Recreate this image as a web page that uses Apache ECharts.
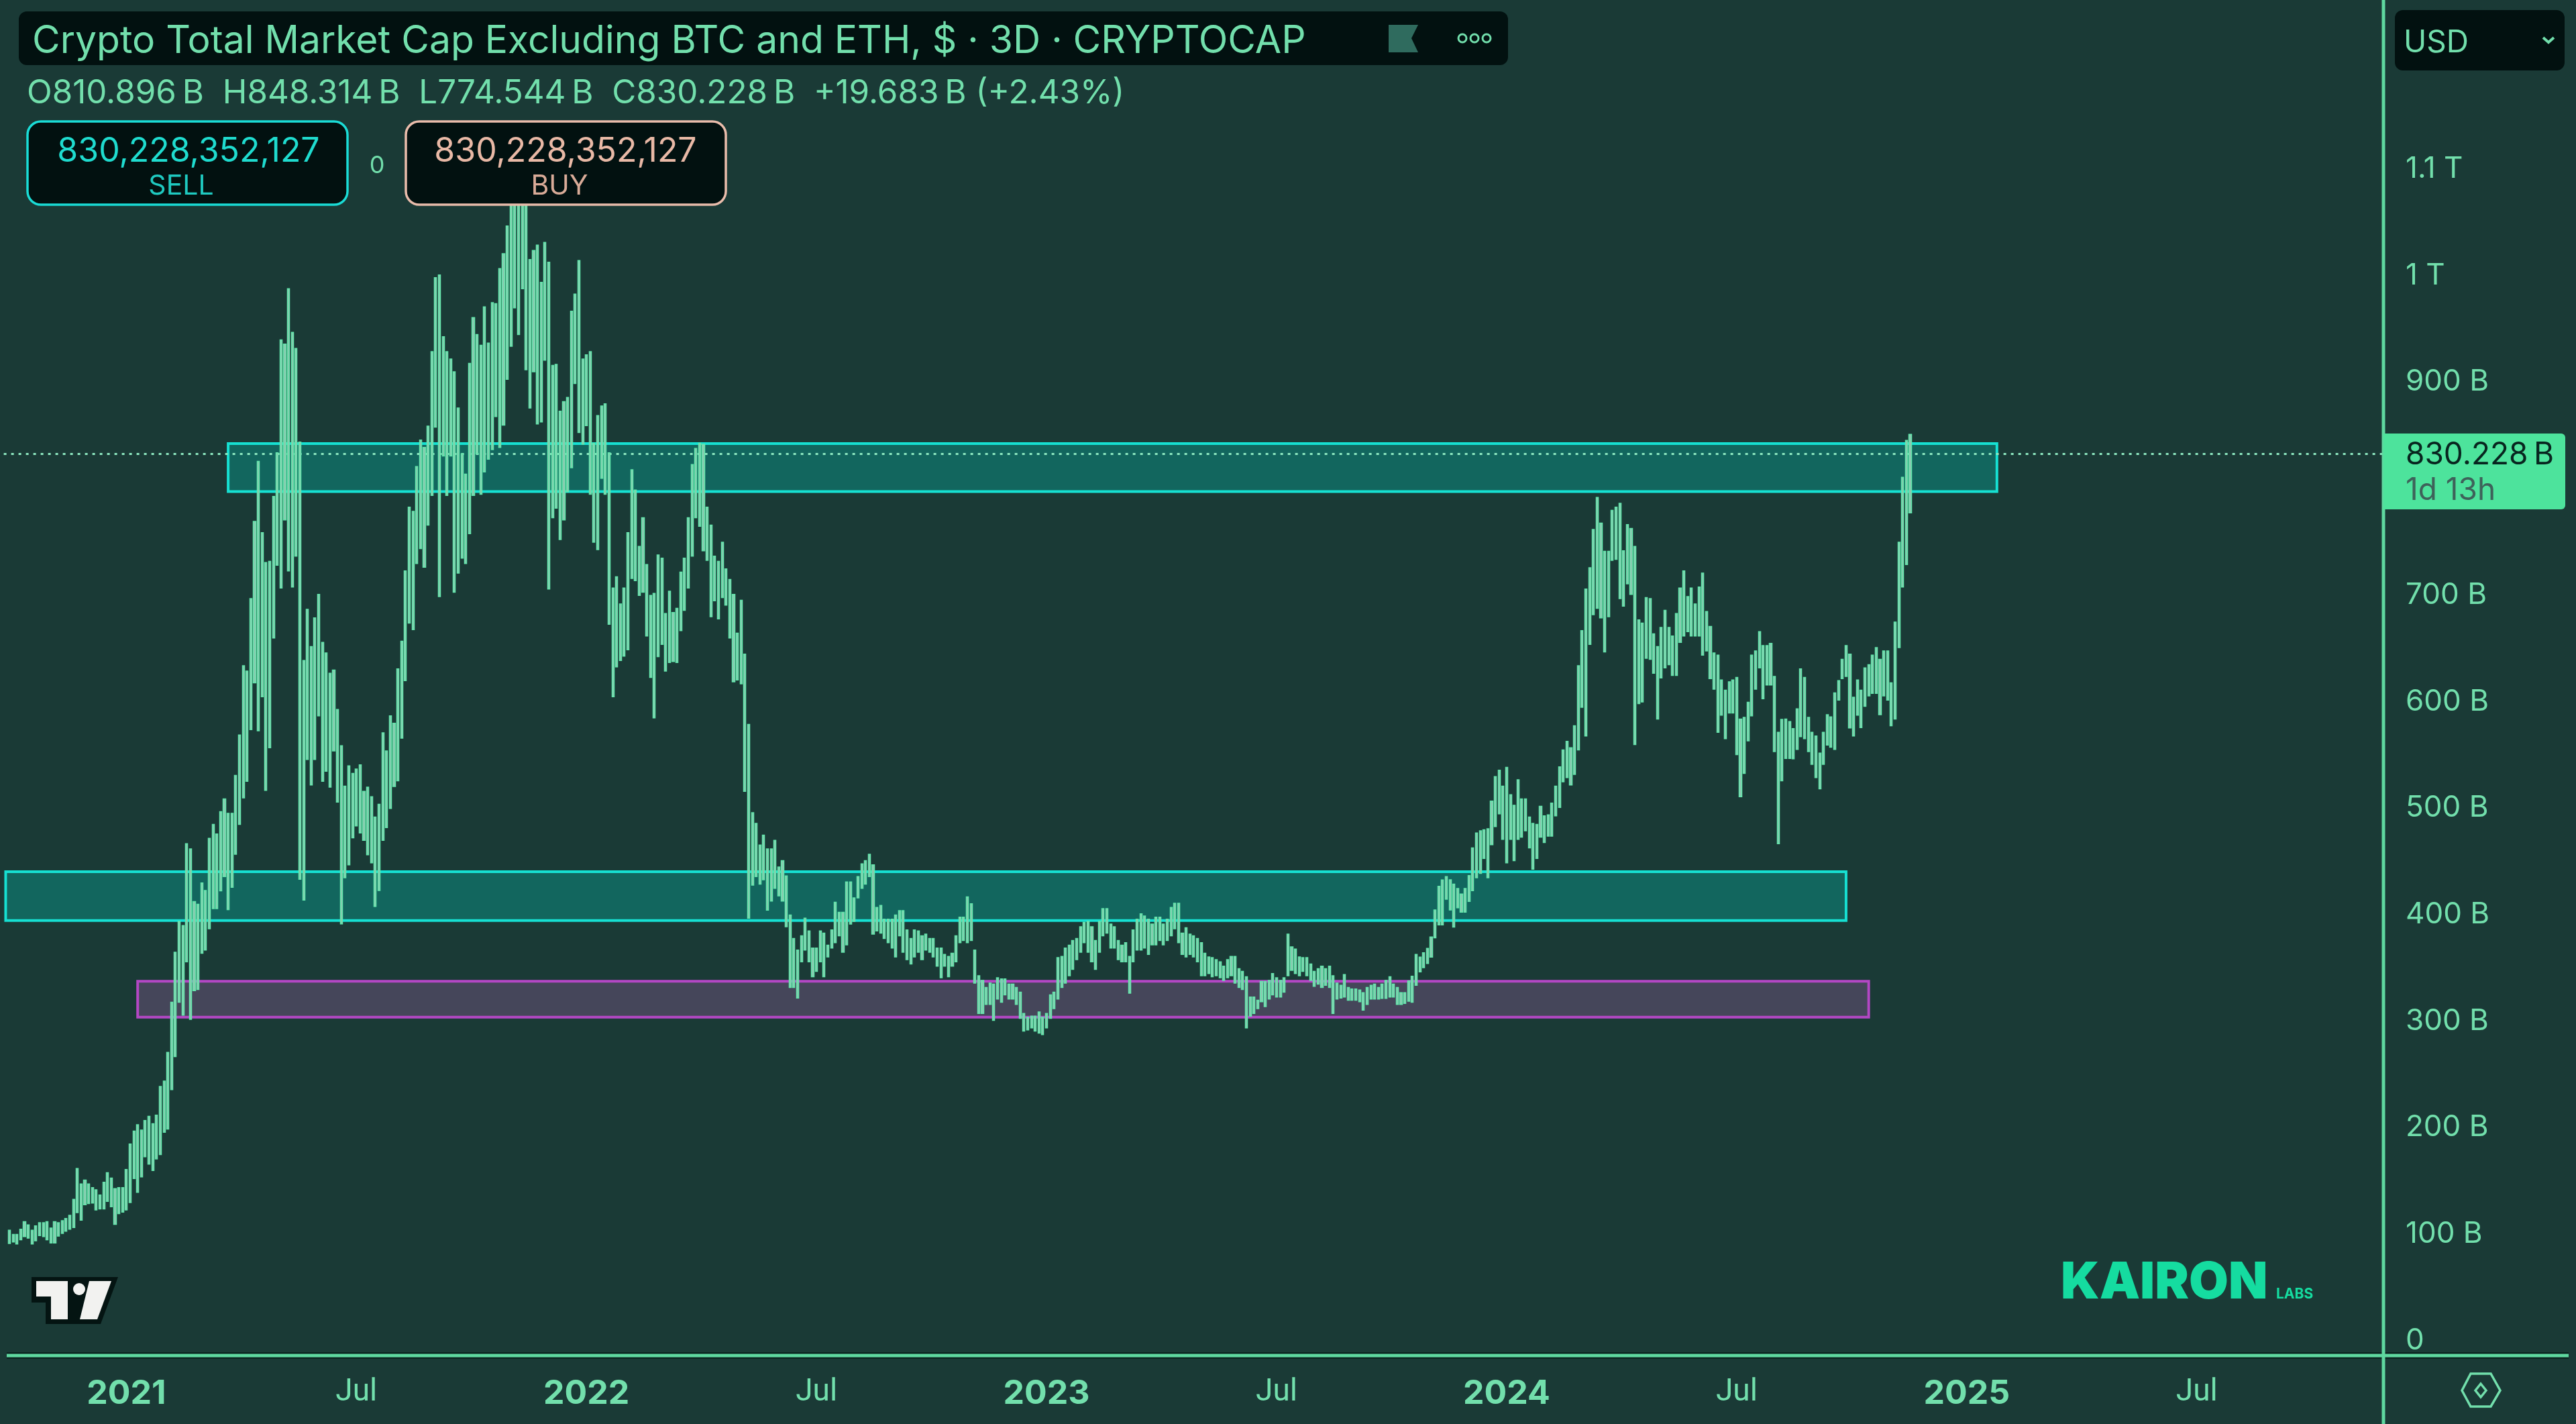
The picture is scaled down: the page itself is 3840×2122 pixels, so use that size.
<!DOCTYPE html>
<html><head><meta charset="utf-8">
<style>html,body{margin:0;padding:0;background:#1a3a36}#c{width:3840px;height:2122px}</style>
<script src="https://cdn.jsdelivr.net/npm/echarts@6/dist/echarts.min.js"></script>
</head><body><div id="c"></div>
<script>
// Bar highs and lows in billions of USD, one pair per 3-day bar
const barHighs = [
101,97,97,102,109,106,101,105,108,108,
109,103,109,108,110,112,115,130,159,144.5,
148,144.5,141,139,134,146,155,150,140,141,
141,158,182,194,200,195,204,208,201,209,
236,241,268,315,362,391,387,464,459,409.5,
407,427,420,469,482,473,494,506,492.5,492.5,
528,566,631,626,694,766.5,823,756,728,729,
790,831,937,933,985,944,929,841,636,684,
649,676,698,653,643,624,627,590,556,518,
537,530,534,538,513,517,508,489,501,568,
551,584,577,628,654,720,780,776,818,843,
836,856,926,995.5,998,940,926,919,907,873,
830,811,915,958,942,932,968,934,972,971,
1004,1018,1044,1090,1095,1100,1100,1085,1012.5,1021,
1026,991,1028.5,1010,913,914,870,879,883,964,
980,1011.5,919,923,926,840,866,875,877,831,
704,714.5,689,704,756,815,796,743,770,726,
697,699,735,732,680,701,681,685,719,732,
770,820,835,840,839,780,763,734,729,747,
722,712,698,661.6,692.5,642,576,493,483,462.6,
472,459,459,467,442,448,433.7,397,375,364,
377.5,394,382,366,366,382,380,368.6,383,409,
399.5,399.5,428,428,413,433,445,448,454,444,
404,406,393,393,393,397,401,401,383,375,
383,382,377.5,379,375,375,366,366,360,358,
361,377.5,395,395,414,407.5,364,340,335.5,329,
333,332,338,337,337,332,332,329,324.5,304.5,
301,302,302,306,301,304.5,322,324.5,357,358,
366,368.6,373,375,386,390,391,386,373,391,
403,403,388.5,386,373,368.6,371,358,383,393,
398,396,393,388.5,395,395,388.5,393,404,408,
408,380,385,379,377.5,375,371,361,357.6,357,
355,353,349,355,358,358,346.5,344,339,320,
320,317,334.6,334.6,335.5,342,338,335.5,338,379,
367,365,357.6,357,357,351,344,346.5,349,346.5,
349,340,333,331,341,329,327.5,327.5,326.6,324,
329,331,332,329,332,335.5,339,332,329,324,
324,335,339.5,360,357.5,361.6,365.6,376.4,401.7,423.9,
429.9,433,430,426,421.8,416.6,421.8,434,460,474,
476,477,478,504,527,533,518,535.6,510,500,
524,506,506,489,483,482,499,490,491,502,
518,536,552,560,554,574.6,631,664,703,723,
759,789,765,738.5,738.5,777,780,783.5,739,763.5,
760,743,674,671,695,694,661,649,667,683,
667,659,680,704,720,696,704,689,705,718,
682,668,643,641,617.6,608,616,617.6,620,581,
582.6,596.7,641,645,663,650,650,652,621,568.5,
580.6,581,578.6,572,590.6,628,620,582.6,568.5,565,
549,568.5,585,583,605.5,617,637,650,642,601.5,
617.6,608,629,632,641,648,637,645,645,615,
672,747,808,842.6,848.3];
const barLows = [
88.5,90,88,92,95,93.5,88,91,96,95,
92,89,89,95.5,98,100,102,103.5,117.5,110.5,
125,126,126.5,120,121,121,128,123,106.5,116.5,
118,120,127,149.5,136.5,151,170,163,157,168,
172,193,196,233,264,315,303,353,299,326,
327,361,364,384,403,403,419.6,433,402,423,
454,482,507,522.6,571,615,570,602,514,554,
657,725.5,704,768,720,705,734,430.6,411,543,
519,543,584,522.6,532,517,551,503,388.6,432,
444,469.5,480.6,474,467,453.6,446,405,420,467,
479,497,517.7,523,563,617,671,665,727,741,
723.6,763,791,855,696,828,791,828,700,718,
732,727,755,791,830,792,813,825,834,865,
836,857,900,931,967,942,985,909,873,907,
858,860,918,703,770,779,749.5,768,794.5,817,
896,850,839,856.5,792,747,740,807,792,670,
602,630,636,640,646,713,711,697,700,659,
620,582,639.5,651,626,634,635,634,664,683,
704,734,770,762,739,730,677,692,675,695,
688,657,616,617.6,614,513,394,425,433,426,
430,401.5,410,422,415,410,386,329,329,319,
353,364,353,339,344,353,339,357.6,366,371,
377.5,362,369,388.5,391,413,422,426,433,379,
382,380,375,371,366,357.6,377.5,362,355,351,
357.6,362,355,364,362,357.6,349,338,349,339,
349,353,371,373,371,373,333,304.5,304.5,313,
313,298,318,315,322,318,318,313,300,288,
289,291,288,286,284.6,291,300,309,318,329,
333,340,346,355,362,371,362,353,346,362,
377.5,380,366,366,355,353,353,323.5,353,364,
364,366,360,369,369,373,369,373,377.5,384,
371,360,357.6,360,357.6,353,340,340,342,339,
340,338,335.5,338,340,333,329,327,291,302,
304.5,309,315.6,311,318,322,320,320,324.5,340,
345,342,340,344,340,335.5,330,332,329,331,
329,304.5,318,319,320,317,317,317,315.6,307.6,
313,318,318,318,318.7,318.7,320,320,313,313,
314,316,315,331,343.5,347.5,351.5,357.5,375.6,387.7,
387.7,411.8,401.7,385.7,403.7,399.7,399.7,409.8,419.8,431.9,
436,450,432,463,480,492,468,446,468,448,
468,470,476,460,440,450,470,465,471,471,
490,498,522,526,519,529,552,592,565,651,
679,685,676,644,677,730,731,694,687,708,
698,557,595.5,597,638,637,624,581,619.6,629,
632,622,622,653,659,663,659,659,659,641,
645,619,609,568.5,584.6,562.5,586.6,586.6,547.6,508,
530,560.5,584,609,629,600,613,613,550.4,464,
523,544,544,543.6,552.5,564.5,562.5,550.4,538.4,526,
515.5,538.4,556.5,554.5,552.5,598.7,619,621,572.6,565,
584.6,573,593,602.7,605,605,585,602.7,598.7,574.6,
581,648,705,726,774.5];

// Time axis: one slot per 3-day bar, with empty slots before the first bar and after the last
const categoryCount = 631;
const leadSlots = 1;
const categories = [];
for (let k = 0; k < categoryCount; k++) {
  categories.push(new Date(Date.UTC(2020, 8, 29 + k * 3)).toISOString().slice(0, 10));
}
const tickIndices = [32, 93, 154, 215, 276, 337, 398, 459, 520, 581];
const tickLabels = ['2021', 'Jul', '2022', 'Jul', '2023', 'Jul', '2024', 'Jul', '2025', 'Jul'];

// Price axis ticks
const priceTicks = [0,100,200,300,400,500,600,700,900,1000,1100];
const priceTickLabels = ['0','100 B','200 B','300 B','400 B','500 B','600 B','700 B','900 B','1 T','1.1 T'];
const lastClose = 830.228;

// Zones: [first slot, last slot, top, bottom] in billions
const upperZone = [59, 528, 839.6, 794.6];
const middleZone = [0, 488, 437.6, 391.8];
const lowerZone = [35, 494, 334.8, 301];

const BG = '#1a3a36', GREEN = '#72dfac', LINE = '#5fd8a0', DARK = '#021110';
const CYAN = '#16e0d2', TEAL = '#12665e', PURPLE = '#b347c4', PLUM = '#45465a';
const UI = 'Inter, sans-serif', NUM = 'Inter, sans-serif';

const barData = [];
for (let k = 0; k < leadSlots; k++) barData.push(['-', '-', '-', '-']);
barHighs.forEach((h, k) => barData.push([barLows[k], h, barLows[k], h]));

function zoneArea(z, fill, stroke) {
  return [
    { xAxis: categories[z[0]], yAxis: z[2], itemStyle: { color: fill, borderColor: stroke, borderWidth: 4 } },
    { xAxis: categories[z[1]], yAxis: z[3] }
  ];
}
function txt(x, y, text, size, fill, opts) {
  return { type: 'text', z: 100, x: x, y: y,
    style: Object.assign({ text: text, fontSize: size, fill: fill, fontFamily: UI, textAlign: 'left', textVerticalAlign: 'middle' }, opts || {}) };
}
function rrect(x, y, w, h, r, fill, stroke, lw) {
  return { type: 'rect', z: 90, shape: { x: x, y: y, width: w, height: h, r: r },
    style: { fill: fill, stroke: stroke || null, lineWidth: lw || 0 } };
}
function poly(points, fill, stroke, lw, z) {
  return { type: 'polygon', z: z || 95, shape: { points: points },
    style: { fill: fill, stroke: stroke || null, lineWidth: lw || 0 } };
}
function seg(x1, y1, x2, y2, color, w, z) {
  return { type: 'line', z: z || 80, shape: { x1: x1, y1: y1, x2: x2, y2: y2 }, style: { stroke: color, lineWidth: w } };
}

const overlay = [
  seg(10, 2020, 3829, 2020, '#0c2622', 10, 78),
  seg(10, 2020, 3829, 2020, LINE, 5, 79),
  { type: 'rect', z: 77, shape: { x: 0, y: 2012, width: 10, height: 16 }, style: { fill: BG } },
  seg(3553, 0, 3553, 2122, LINE, 5),
  // Title bar
  rrect(28, 17, 2220, 80, 12, DARK),
  txt(48, 62, 'Crypto Total Market Cap Excluding BTC and ETH, $ \u00b7 3D \u00b7 CRYPTOCAP', 57, GREEN),
  poly([[2070,37],[2114,37],[2104,57],[2114,78],[2070,78]], '#2f6b5e'),
  { type: 'circle', z: 95, shape: { cx: 2180, cy: 57, r: 6 }, style: { fill: 'none', stroke: GREEN, lineWidth: 3 } },
  { type: 'circle', z: 95, shape: { cx: 2198, cy: 57, r: 6 }, style: { fill: 'none', stroke: GREEN, lineWidth: 3 } },
  { type: 'circle', z: 95, shape: { cx: 2216, cy: 57, r: 6 }, style: { fill: 'none', stroke: GREEN, lineWidth: 3 } },
  // OHLC line
  txt(40, 139, 'O810.896\u2009B  H848.314\u2009B  L774.544\u2009B  C830.228\u2009B  +19.683\u2009B (+2.43%)', 49.3, GREEN),
  // Sell / buy boxes
  rrect(41, 181, 477, 124, 20, DARK, '#1adcd6', 3.5),
  txt(281, 226, '830,228,352,127', 50, '#1fdccf', { textAlign: 'center' }),
  txt(270, 278, 'SELL', 41, '#1fc9c0', { textAlign: 'center' }),
  txt(562, 247, '0', 36, GREEN, { textAlign: 'center' }),
  rrect(605, 181, 477, 124, 20, DARK, '#e9bcab', 3.5),
  txt(843, 226, '830,228,352,127', 50, '#e9b9a6', { textAlign: 'center' }),
  txt(834, 278, 'BUY', 41, '#d9ab98', { textAlign: 'center' }),
  // Currency selector
  rrect(3570, 15, 253, 90, 12, DARK),
  txt(3583, 64, 'USD', 46, GREEN, { fontFamily: NUM }),
  { type: 'polyline', z: 95, shape: { points: [[3791,56],[3799,63],[3807,56]] }, style: { fill: 'none', stroke: GREEN, lineWidth: 4 } },
  // Last price tag
  rrect(3553, 646, 271, 113, [0, 6, 6, 0], '#4de39c'),
  txt(3586, 678, '830.228\u2009B', 46, '#08251f', { fontFamily: NUM }),
  txt(3586, 731, '1d 13h', 46, '#3e625a', { fontFamily: NUM }),
  // TradingView mark
  poly([[47,1903],[176,1903],[150,1973],[68,1973],[68,1941],[47,1941]], '#041412', null, 0, 90),
  poly([[54,1909],[101,1909],[101,1966],[76,1966],[76,1932],[54,1932]], '#f2f2f0'),
  { type: 'circle', z: 95, shape: { cx: 118, cy: 1921, r: 9 }, style: { fill: '#f2f2f0' } },
  poly([[133,1909],[166,1909],[145,1966],[119,1966]], '#f2f2f0'),
  // Kairon mark
  txt(3072, 1912, 'KAIRON', 76, '#15dca0', { fontFamily: NUM, fontWeight: 900 }),
  txt(3393, 1929, 'LABS', 21, '#15dca0', { fontFamily: NUM, fontWeight: 700 }),
  // Settings glyph
  poly([[3683,2047],[3713,2047],[3727,2072],[3713,2096],[3683,2096],[3670,2072]], 'none', GREEN, 3.5),
  poly([[3698,2062],[3706,2072],[3698,2082],[3690,2072]], 'none', GREEN, 3.5)
];

const chart = echarts.init(document.getElementById('c'), null, { renderer: 'canvas', devicePixelRatio: 1 });
chart.setOption({
  animation: false,
  backgroundColor: BG,
  grid: { left: 5.623, width: 3547.4, top: 89.1, height: 1904.4, containLabel: false },
  xAxis: {
    type: 'category', data: categories, boundaryGap: true, offset: 26.5,
    axisLine: { show: true, onZero: false, lineStyle: { color: LINE, width: 5 } },
    axisTick: { show: false },
    splitLine: { show: false },
    axisLabel: {
      margin: 32, hideOverlap: false,
      interval: (idx) => tickIndices.includes(idx),
      formatter: (v, idx) => {
        const t = tickLabels[tickIndices.indexOf(idx)];
        return t === 'Jul' ? '{mon|Jul}' : '{year|' + t + '}';
      },
      rich: {
        year: { fontFamily: NUM, fontWeight: 700, fontSize: 50, color: GREEN },
        mon: { fontFamily: 'Roboto, sans-serif', fontWeight: 400, fontSize: 46, color: GREEN }
      }
    }
  },
  yAxis: {
    type: 'value', position: 'right', min: 0, max: 1200, interval: 100, scale: false,
    axisLine: { show: false }, axisTick: { show: false }, splitLine: { show: false },
    axisLabel: {
      margin: 33, customValues: priceTicks,
      formatter: (v) => '{p|' + priceTickLabels[priceTicks.indexOf(v)] + '}',
      rich: { p: { color: GREEN, fontFamily: NUM, fontSize: 44, padding: [8, 0, 0, 0] } }
    }
  },
  series: [{
    type: 'candlestick', name: 'Crypto Total Market Cap Excluding BTC and ETH',
    data: barData, barWidth: 3.6, z: 5,
    itemStyle: { color: '#8cc9b0', color0: '#8cc9b0', borderColor: '#62e8ac', borderColor0: '#62e8ac', borderWidth: 1.5 },
    markLine: {
      silent: true, symbol: 'none', z: 3, animation: false,
      label: { show: false },
      lineStyle: { color: '#8de8c0', width: 3, type: [4, 7] },
      data: [{ yAxis: lastClose }]
    },
    markArea: {
      silent: true, z: 1, animation: false,
      label: { show: false },
      data: [zoneArea(upperZone, TEAL, CYAN), zoneArea(middleZone, TEAL, CYAN), zoneArea(lowerZone, PLUM, PURPLE)]
    }
  }],
  graphic: { elements: overlay }
});
</script></body></html>
